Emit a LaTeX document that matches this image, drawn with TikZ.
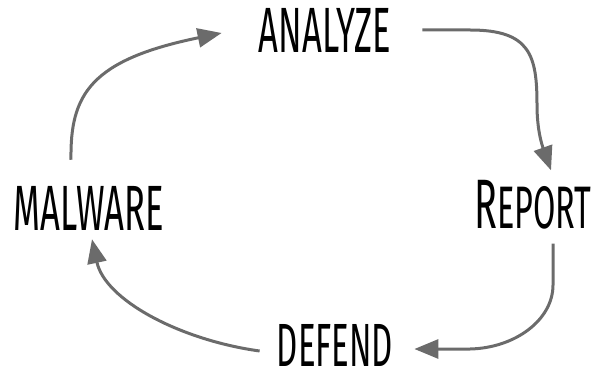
\documentclass[tikz,border=0pt]{standalone}
\usepackage{fontspec}
\setmainfont{Fira Sans}[FakeStretch=0.54]
\usetikzlibrary{arrows.meta}
\definecolor{arrowgray}{HTML}{6B6B6B}
\begin{document}
\begin{tikzpicture}[x=1pt, y=-1pt,
  stage/.style={inner sep=0pt, font=\fontsize{64}{64}\selectfont},
  cycle/.style={draw=arrowgray, line width=3pt, -{Triangle[length=24pt,width=19pt]}}]
  \useasboundingbox (0,0) rectangle (596,379);
  % the four stages
  \node[stage] (analyze) at (325,30)  {ANALYZE};
  \node[stage] (report)  at (533,205) {{\fontsize{70}{70}\selectfont R}{\fontsize{60}{60}\selectfont EPORT}};
  \node[stage, font=\fontsize{61}{61}\selectfont] (defend) at (335,345) {DEFEND};
  \node[stage] (malware) at (89,208)  {MALWARE};
  % arrows round the cycle
  \draw[cycle] ([xshift=-18pt,yshift=26pt]malware.north)
    .. controls (70,95) and (90,60) .. ([xshift=-37pt,yshift=-3pt]analyze.west);
  \draw[cycle] ([xshift=31pt]analyze.east) -- (470,30)
    .. controls (530,30) and (537,55) .. (537,105)
    .. controls (537,130) and (542,145) .. ([xshift=18pt,yshift=10pt]report.north);
  \draw[cycle] ([xshift=20pt,yshift=-14pt]report.south) -- (553,285)
    .. controls (553,320) and (515,348) .. (470,349)
    -- ([xshift=21pt,yshift=-4pt]defend.east);
  \draw[cycle] ([xshift=-17pt,yshift=-6pt]defend.west)
    .. controls (180,340) and (105,300) .. ([xshift=3pt,yshift=-9pt]malware.south);
\end{tikzpicture}
\end{document}
